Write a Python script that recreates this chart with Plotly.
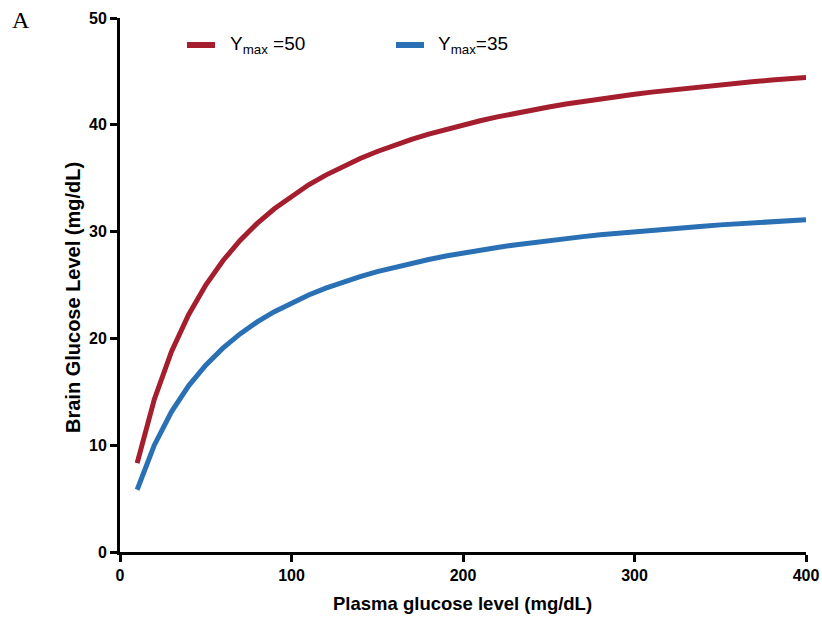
import plotly.graph_objects as go

plasma = [10, 20, 30, 40, 50, 60, 70, 80, 90, 100, 110, 120, 130, 140, 150, 160, 170, 180, 190, 200,
          210, 220, 230, 240, 250, 260, 270, 280, 290, 300, 310, 320, 330, 340, 350, 360, 370, 380, 390, 400]
brain_ymax50 = [8.33, 14.29, 18.75, 22.22, 25.00, 27.27, 29.17, 30.77, 32.14, 33.33,
                34.38, 35.29, 36.11, 36.84, 37.50, 38.10, 38.64, 39.13, 39.58, 40.00,
                40.38, 40.74, 41.07, 41.38, 41.67, 41.94, 42.19, 42.42, 42.65, 42.86,
                43.06, 43.24, 43.42, 43.59, 43.75, 43.90, 44.05, 44.19, 44.32, 44.44]
brain_ymax35 = [5.83, 10.00, 13.13, 15.56, 17.50, 19.09, 20.42, 21.54, 22.50, 23.33,
                24.06, 24.71, 25.28, 25.79, 26.25, 26.67, 27.05, 27.39, 27.71, 28.00,
                28.27, 28.52, 28.75, 28.97, 29.17, 29.35, 29.53, 29.70, 29.85, 30.00,
                30.14, 30.27, 30.40, 30.51, 30.63, 30.73, 30.83, 30.93, 31.02, 31.11]
series_names = ["Y<sub>max</sub> =50", "Y<sub>max</sub>=35"]
colors = ["#A51E2E", "#2A70B4"]
x_ticks = [0, 100, 200, 300, 400]
y_ticks = [0, 10, 20, 30, 40, 50]

fig = go.Figure()
for ys, name, c in zip([brain_ymax50, brain_ymax35], series_names, colors):
    fig.add_trace(go.Scatter(x=plasma, y=ys, mode="lines", name=name,
                             line=dict(color=c, width=5, shape="linear"), showlegend=False))

font = "Liberation Sans, Arial, sans-serif"
axis_common = dict(showgrid=False, zeroline=False, showline=True, linecolor="black", linewidth=3,
                   ticks="outside", ticklen=7, tickwidth=3, tickcolor="black", automargin=False,
                   tickfont=dict(family=font, size=16, color="black", weight="bold"))
fig.update_xaxes(range=[0, 400], tickvals=x_ticks, **axis_common)
fig.update_yaxes(range=[0, 50], tickvals=y_ticks, **axis_common)

W, H = 822, 617
ml, mr, mt, mb = 120, 16, 18, 65
pw, ph = W - ml - mr, H - mt - mb
def px(xpix):
    return (xpix - ml) / pw
def py(ypix):
    return 1 - (ypix - mt) / ph

# axis titles
fig.add_annotation(xref="paper", yref="paper", x=px(462), y=py(603), xanchor="center", yanchor="middle",
                   text="Plasma glucose level (mg/dL)", showarrow=False,
                   font=dict(family=font, size=18.5, color="black", weight="bold"))
fig.add_annotation(xref="paper", yref="paper", x=px(73), y=py(298), xanchor="center", yanchor="middle",
                   text="Brain Glucose Level (mg/dL)", showarrow=False, textangle=-90,
                   font=dict(family=font, size=20, color="black", weight="bold"))

# legend drawn manually
leg = [(187, 215, 228), (396, 424, 436)]
for (x0, x1, xt), name, c in zip(leg, series_names, colors):
    fig.add_shape(type="line", xref="paper", yref="paper", x0=px(x0), x1=px(x1), y0=py(45), y1=py(45),
                  line=dict(color=c, width=6))
    fig.add_annotation(xref="paper", yref="paper", x=px(xt), y=py(45), xanchor="left", yanchor="middle",
                       text=name, showarrow=False, font=dict(family=font, size=19, color="black"))

fig.add_annotation(xref="paper", yref="paper", x=px(10), y=py(20), xanchor="left", yanchor="middle",
                   text="A", showarrow=False, font=dict(family="Liberation Serif, serif", size=24, color="black"))

fig.update_layout(width=W, height=H, margin=dict(l=ml, r=mr, t=mt, b=mb),
                  plot_bgcolor="white", paper_bgcolor="white")
fig.write_html("out.html")
